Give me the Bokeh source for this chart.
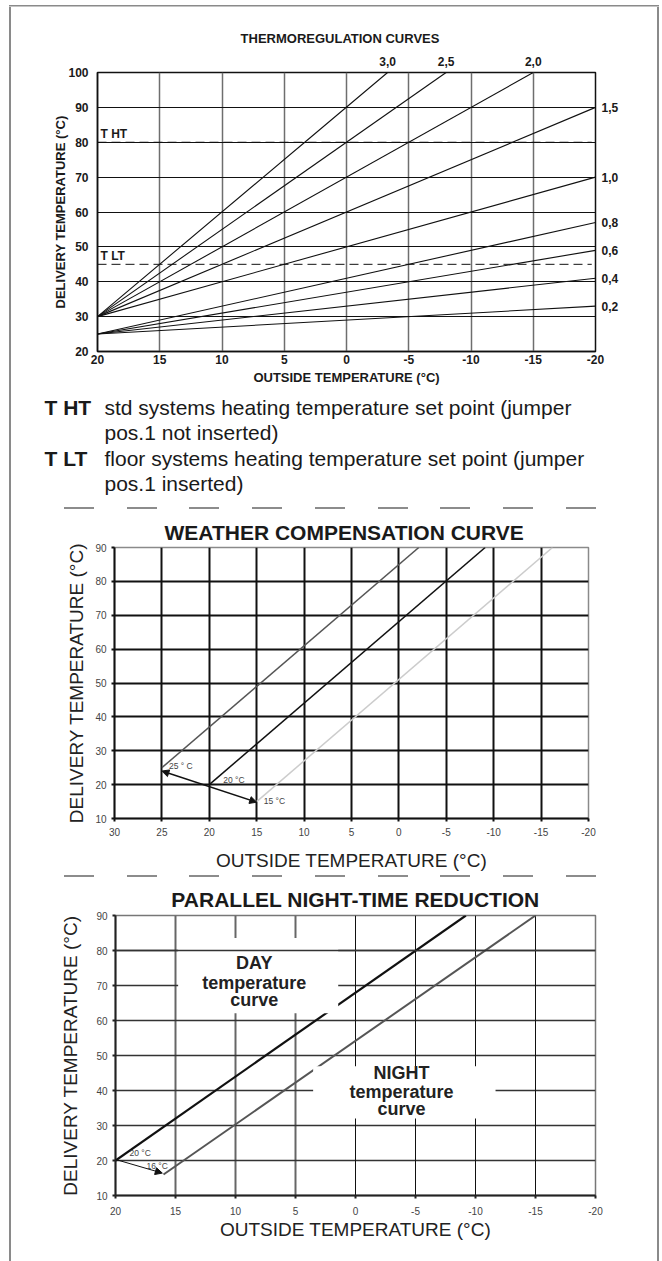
from bokeh.plotting import figure
from bokeh.models import (Range1d, FixedTicker, Label, Span, Arrow, NormalHead,
                          Div, Grid, LinearAxis, Column, Row)
from bokeh.embed import file_html
from bokeh.resources import INLINE

FONT = "Liberation Sans"

# ---------------- data : chart 1 (thermoregulation curves) ----------------
t1_x_ticks = [20, 15, 10, 5, 0, -5, -10, -15, -20]
t1_y_ticks = [20, 30, 40, 50, 60, 70, 80, 90, 100]
curve_names = ["3,0", "2,5", "2,0", "1,5", "1,0", "0,8", "0,6", "0,4", "0,2"]
curve_x0 = [20, 20, 20, 20, 20, 20, 20, 20, 20]
curve_y0 = [30, 30, 30, 30, 30, 25, 25, 25, 25]
curve_x1 = [-3.3, -8, -15, -20, -20, -20, -20, -20, -20]
curve_y1 = [100, 100, 100, 90, 70, 57, 49, 41, 33]
setpoint_names = ["T HT", "T LT"]
setpoint_values = [80, 45]

# ---------------- data : chart 2 (weather compensation) ----------------
wc_x_ticks = [30, 25, 20, 15, 10, 5, 0, -5, -10, -15, -20]
wc_y_ticks = [10, 20, 30, 40, 50, 60, 70, 80, 90]
wc_names = ["25 ° C", "20 °C", "15 °C"]
wc_x0 = [25, 20, 15]
wc_y0 = [25, 20, 15]
wc_x1 = [-2.1, -9.1, -16.2]
wc_y1 = [90, 90, 90]
wc_arrow_x = [25, 15]
wc_arrow_y = [24, 14.8]

# ---------------- data : chart 3 (parallel night-time reduction) ----------------
dn_x_ticks = [20, 15, 10, 5, 0, -5, -10, -15, -20]
dn_y_ticks = [10, 20, 30, 40, 50, 60, 70, 80, 90]
dn_names = ["DAY", "NIGHT"]
dn_x0 = [20, 16]
dn_y0 = [20, 16]
dn_x1 = [-9.2, -15]
dn_y1 = [90, 90]
dn_point_names = ["20 °C", "16 °C"]
dn_arrow_x = [20, 16.1]
dn_arrow_y = [20.3, 16.4]

W = 646
GRAY = "#8a8a8a"


def make_fig(h, xr, yr, bl, br, bt, bb):
    p = figure(width=W, height=h, x_range=Range1d(*xr), y_range=Range1d(*yr),
               min_border_left=bl, min_border_right=br, min_border_top=bt,
               min_border_bottom=bb, output_backend="svg", toolbar_location=None,
               title=None)
    p.frame_align = False
    p.background_fill_color = "white"
    p.border_fill_color = "white"
    return p


def style_axes(p, xt, yt, size, style, color, lab_size, lab_style, lab_color,
               line_color, line_w, tick_out, xstand, ystand, xlab_st, ylab_st):
    p.xaxis.ticker = FixedTicker(ticks=xt)
    p.yaxis.ticker = FixedTicker(ticks=yt)
    p.xaxis.major_label_overrides = {t: str(t) for t in xt}   # plain hyphen minus
    for ax in (p.xaxis[0], p.yaxis[0]):
        ax.major_label_text_font = FONT
        ax.major_label_text_font_size = size
        ax.major_label_text_font_style = style
        ax.major_label_text_color = color
        ax.axis_label_text_font = FONT
        ax.axis_label_text_font_size = lab_size
        ax.axis_label_text_font_style = lab_style
        ax.axis_label_text_color = lab_color
        ax.axis_line_color = line_color
        ax.axis_line_width = line_w
        ax.minor_tick_line_color = None
        ax.major_tick_in = 0
        ax.major_tick_out = tick_out
        ax.major_tick_line_color = line_color if tick_out else None
        ax.major_tick_line_width = line_w
    p.xaxis.major_label_standoff = xstand
    p.yaxis.major_label_standoff = ystand
    p.xaxis.axis_label_standoff = xlab_st
    p.yaxis.axis_label_standoff = ylab_st
    p.xaxis.axis_label = "OUTSIDE TEMPERATURE (°C)"
    p.yaxis.axis_label = "DELIVERY TEMPERATURE (°C)"


def title_axis(p, text, size, standoff, ticks=None, labels=None, lab_standoff=0):
    ax = LinearAxis(ticker=FixedTicker(ticks=ticks or []), axis_line_color=None,
                    major_tick_line_color=None, minor_tick_line_color=None,
                    major_tick_out=0, major_tick_in=0,
                    major_label_standoff=lab_standoff,
                    major_label_text_font=FONT, major_label_text_font_style="bold",
                    major_label_text_font_size="12px", major_label_text_color="#1a1a1a",
                    axis_label=text, axis_label_standoff=standoff,
                    axis_label_text_font=FONT, axis_label_text_font_style="bold",
                    axis_label_text_font_size=size, axis_label_text_color="#1a1a1a")
    if labels:
        ax.major_label_overrides = dict(zip(ticks, labels))
    p.add_layout(ax, "above")
    return ax


# ======================= chart 1 =======================
p1 = make_fig(385, (20, -20), (20, 100), 86, 62, 65, 41)
style_axes(p1, t1_x_ticks, t1_y_ticks, "12px", "bold", "#1a1a1a", "13px", "bold",
           "#1a1a1a", "#111111", 1.5, 0, 3, 9, 3, -3)
p1.xgrid.grid_line_color = "#6e6e6e"
p1.xgrid.grid_line_width = 1.5
p1.ygrid.grid_line_color = "#111111"
p1.ygrid.grid_line_width = 1
p1.outline_line_color = "#111111"
p1.outline_line_width = 1.5

p1.segment(x0=curve_x0, y0=curve_y0, x1=curve_x1, y1=curve_y1,
           line_color="#111111", line_width=1.1)
p1.segment(x0=[t1_x_ticks[0]] * len(setpoint_values), y0=setpoint_values,
           x1=[t1_x_ticks[-1] + 0.3] * len(setpoint_values), y1=setpoint_values,
           line_color="#111111", line_width=1, line_dash="9 5")

px1 = 498 / 40.0   # px per degree (x)
py1 = 279 / 80.0   # px per degree (y)
for name, v in zip(setpoint_names, setpoint_values):
    p1.add_layout(Label(x=t1_x_ticks[0] - 3 / px1, y=v + 1 / py1, text=name,
                        text_font=FONT, text_font_style="bold", text_font_size="12px",
                        text_color="#1a1a1a", text_align="left",
                        text_baseline="bottom"))

top_ticks = [x1 for x1, y1 in zip(curve_x1, curve_y1) if y1 >= t1_y_ticks[-1]]
top_names = [n for n, y1 in zip(curve_names, curve_y1) if y1 >= t1_y_ticks[-1]]
right_ticks = [y1 for y1 in curve_y1 if y1 < t1_y_ticks[-1]]
right_names = [n for n, y1 in zip(curve_names, curve_y1) if y1 < t1_y_ticks[-1]]

title_axis(p1, "THERMOREGULATION CURVES\u2002\u2002", "13px", 8,
           ticks=top_ticks, labels=top_names, lab_standoff=7)
rax = LinearAxis(ticker=FixedTicker(ticks=right_ticks),
                 major_label_overrides=dict(zip(right_ticks, right_names)),
                 axis_line_color=None, major_tick_line_color=None,
                 minor_tick_line_color=None, major_tick_out=0, major_tick_in=0,
                 major_label_standoff=6, major_label_text_font=FONT,
                 major_label_text_font_style="bold", major_label_text_font_size="12px",
                 major_label_text_color="#1a1a1a")
p1.add_layout(rax, "right")

# ======================= legend text + separators =======================
row = ('<div style="display:flex;white-space:nowrap;">'
       '<span style="display:inline-block;width:60px;margin-left:33.5px;font-weight:bold;">{k}</span>'
       '<span>{t}</span></div>')
DASHES = ("repeating-linear-gradient(90deg,#8c8c8c 0px,#8c8c8c 30px,"
          "transparent 30px,transparent 62.75px)")
sep_html = ('<div style="margin:{m}px 0 0 52.5px;width:532px;height:2px;'
            'background:' + DASHES + ';"></div>')
legend_html = ('<div style="font-family:\'Liberation Sans\',Arial,sans-serif;font-size:21px;'
               'line-height:25.3px;color:#1a1a1a;padding-top:3px;">'
               + row.format(k="T HT", t="std systems heating temperature set point (jumper<br>pos.1 not inserted)")
               + row.format(k="T LT", t="floor systems heating temperature set point (jumper<br>pos.1 inserted)")
               + '</div>' + sep_html.format(m=11))
legend_div = Div(text=legend_html, width=W, height=119, margin=0)
sep2 = Div(text="", width=W, height=6, margin=0,
           styles={"background": DASHES + " 52.5px 2px / 532px 2px no-repeat"})

# ======================= chart 2 =======================
p2 = make_fig(362, (30, -20), (10, 90), 103, 69, 36, 52)
style_axes(p2, wc_x_ticks, wc_y_ticks, "10px", "normal", "#444444", "19px", "normal",
           "#222222", "#111111", 2, 3, 6, 5, 11, 5)
p2.xgrid.grid_line_color = "#111111"
p2.xgrid.grid_line_width = 2
p2.ygrid.grid_line_color = "#111111"
p2.ygrid.grid_line_width = 2
p2.outline_line_color = "#8a8a8a"
p2.outline_line_width = 1.5

p2.segment(x0=wc_x0, y0=wc_y0, x1=wc_x1, y1=wc_y1,
           line_color=["#555555", "#111111", "#cccccc"], line_width=1.5)
p2.add_layout(Arrow(start=NormalHead(size=7, fill_color="#111111", line_color="#111111"),
                    end=NormalHead(size=7, fill_color="#111111", line_color="#111111"),
                    x_start=wc_arrow_x[0], y_start=wc_arrow_y[0],
                    x_end=wc_arrow_x[1], y_end=wc_arrow_y[1],
                    line_color="#111111", line_width=1.5))
px2 = 474 / 50.0
py2 = 274 / 80.0
wc_off = [(7, 1.5), (14, 5), (7, 1)]
for name, x0, y0, (dx, dy) in zip(wc_names, wc_x0, wc_y0, wc_off):
    p2.add_layout(Label(x=x0 - dx / px2, y=y0 + dy / py2, text=name, text_font=FONT,
                        text_font_size="8.5px", text_color="#444444",
                        text_align="left", text_baseline="middle"))
title_axis(p2, "WEATHER COMPENSATION CURVE\u2002\u2009", "21px", 4)

# ======================= chart 3 =======================
p3 = make_fig(382, (20, -20), (10, 90), 104, 62, 36, 66)
style_axes(p3, dn_x_ticks, dn_y_ticks, "10px", "normal", "#444444", "19px", "normal",
           "#222222", "#222222", 2, 3, 8, 5, 1, 12)
p3.xgrid.ticker = FixedTicker(ticks=[15, 10, 5])
p3.xgrid.grid_line_color = "#666666"
p3.xgrid.grid_line_width = 2
p3.add_layout(Grid(dimension=0, ticker=FixedTicker(ticks=[0, -5, -10, -15]),
                   grid_line_color="#111111", grid_line_width=1))
p3.ygrid.grid_line_color = "#333333"
p3.ygrid.grid_line_width = 1.5
p3.outline_line_color = "#777777"
p3.outline_line_width = 1.5

p3.segment(x0=dn_x0, y0=dn_y0, x1=dn_x1, y1=dn_y1,
           line_color=["#111111", "#555555"], line_width=[2.2, 2])
p3.add_layout(Arrow(end=NormalHead(size=7, fill_color="#111111", line_color="#111111"),
                    start=None,
                    x_start=dn_arrow_x[0], y_start=dn_arrow_y[0],
                    x_end=dn_arrow_x[1], y_end=dn_arrow_y[1],
                    line_color="#111111", line_width=1))
px3 = 480 / 40.0
py3 = 280 / 80.0
dn_off = [(14, 6.0), (31, -6.5)]   # screen px: right of / above the arrow start
for name, (dx, dy) in zip(dn_point_names, dn_off):
    p3.add_layout(Label(x=dn_arrow_x[0] - dx / px3, y=dn_arrow_y[0] + dy / py3,
                        text=name, text_font=FONT, text_font_size="8.5px",
                        text_color="#444444", text_align="left", text_baseline="middle"))

# white label boxes (covering grid and curves)
p3.quad(left=[14.78, 3.53], right=[1.44, -11.67], bottom=[62.1, 32.0], top=[83.6, 46.9],
        fill_color="white", line_color=None)
p3.add_layout(Span(location=80, dimension="width", line_color="#333333", line_width=1.5))

box_x = [8.44, -3.83]
box_y = [75.2, 43.9]
for name, bx, by in zip(dn_names, box_x, box_y):
    for i, t in enumerate([name, "temperature", "curve"]):
        shift_px = 2.0 + (2.0 if i == 0 else 0.0) - i * 17.3
        p3.add_layout(Label(x=bx, y=by + shift_px / py3, text=t, text_font=FONT,
                            text_font_style="bold", text_font_size="18px",
                            text_color="#222222", text_align="center",
                            text_baseline="alphabetic"))
title_axis(p3, "PARALLEL NIGHT-TIME REDUCTION", "21px", 5)

# ======================= page frame (thin grey rule on top, left and right) =======================
inner = Column(children=[p1, legend_div, p2, sep2, p3], spacing=0)
inner_h = 385 + 119 + 362 + 6 + 382
VBAR = "linear-gradient(%s,%s) 0 0 / 1.5px 100%% no-repeat" % (GRAY, GRAY)
HBAR = "linear-gradient(%s,%s) 0 0 / 100%% 1.5px no-repeat" % (GRAY, GRAY)
LINE_STYLES = {"position": "relative", "z-index": "10"}
vline_html = '<div style="width:1.5px;height:%dpx;background:%s;"></div>' % (inner_h, GRAY)
left_line = Div(text=vline_html, width=2, height=inner_h, margin=0,
                styles=dict(LINE_STYLES, background=VBAR))
right_line = Div(text=vline_html, width=2, height=inner_h, margin=0,
                 styles=dict(LINE_STYLES, background=VBAR))
top_line = Div(text="", width=W + 4, height=2, margin=0,
               styles=dict(LINE_STYLES, background=HBAR))
page = Column(children=[top_line, Row(children=[left_line, inner, right_line], spacing=0)],
              spacing=0, styles={"margin-left": "9px", "margin-top": "5px"})

open("out.html", "w").write(file_html(page, INLINE))
